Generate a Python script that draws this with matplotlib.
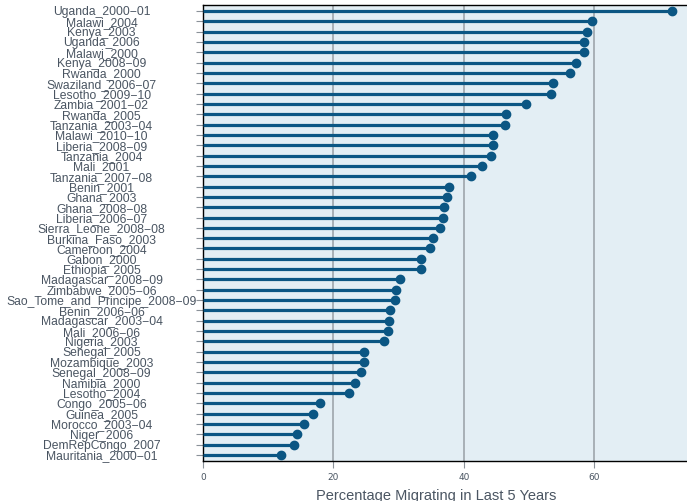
import numpy as np
import matplotlib.pyplot as plt

# Share of population that migrated in the last 5 years, by survey
surveys = [
    'Uganda_2000−01', 'Malawi_2004', 'Kenya_2003', 'Uganda_2006', 'Malawi_2000',
    'Kenya_2008−09', 'Rwanda_2000', 'Swaziland_2006−07', 'Lesotho_2009−10',
    'Zambia_2001−02', 'Rwanda_2005', 'Tanzania_2003−04', 'Malawi_2010−10',
    'Liberia_2008−09', 'Tanzania_2004', 'Mali_2001', 'Tanzania_2007−08',
    'Benin_2001', 'Ghana_2003', 'Ghana_2008−08', 'Liberia_2006−07',
    'Sierra_Leone_2008−08', 'Burkina_Faso_2003', 'Cameroon_2004', 'Gabon_2000',
    'Ethiopia_2005', 'Madagascar_2008−09', 'Zimbabwe_2005−06',
    'Sao_Tome_and_Principe_2008−09', 'Benin_2006−06', 'Madagascar_2003−04',
    'Mali_2006−06', 'Nigeria_2003', 'Senegal_2005', 'Mozambique_2003',
    'Senegal_2008−09', 'Namibia_2000', 'Lesotho_2004', 'Congo_2005−06',
    'Guinea_2005', 'Morocco_2003−04', 'Niger_2006', 'DemRepCongo_2007',
    'Mauritania_2000−01',
]
pct_migrating = [
    72.0, 59.7, 58.9, 58.5, 58.4,
    57.2, 56.3, 53.7, 53.3,
    49.5, 46.5, 46.3, 44.5,
    44.5, 44.1, 42.8, 41.1,
    37.8, 37.4, 37.0, 36.8,
    36.4, 35.3, 34.8, 33.5,
    33.4, 30.2, 29.6,
    29.5, 28.7, 28.5,
    28.4, 27.7, 24.7, 24.7,
    24.3, 23.3, 22.4, 17.9,
    16.8, 15.5, 14.4, 13.9,
    11.9,
]
x_ticks = [0, 20, 40, 60]

stem_color = '#0b5683'
text_color = '#4a5562'

fig = plt.figure(figsize=(6.87, 5.01), dpi=100)
ax = fig.add_axes([203 / 687, 40 / 501, 75 * 6.52 / 687, 456 / 501])
ax.set_facecolor('#e3eef4')

y = np.arange(len(surveys))
ax.hlines(y, 0, pct_migrating, color=stem_color, linewidth=2.3, zorder=3)
ax.plot(pct_migrating, y, 'o', color=stem_color, markersize=6, zorder=4)

ax.set_xlim(0, 75)
ax.set_ylim(len(surveys) - 0.42, -0.58)

ax.set_xticks(x_ticks)
ax.set_xticklabels([str(t) for t in x_ticks], fontsize=6.5, color=text_color)
ax.set_yticks(y)
ax.set_yticklabels(surveys, fontsize=8.7, color=text_color,
                   family=['Liberation Sans', 'DejaVu Sans'])
for lbl in ax.get_yticklabels():
    lbl.set_horizontalalignment('center')
ax.tick_params(axis='y', length=5, width=0.8, color='#8a9198', pad=68)
ax.tick_params(axis='x', length=5, width=0.8, color='#8a9198', pad=4)

ax.grid(axis='x', color='#9ea5ab', linewidth=1.2, zorder=1)
ax.set_axisbelow(True)
for side in ['left', 'bottom', 'top']:
    ax.spines[side].set_color('black')
    ax.spines[side].set_linewidth(1.0)
ax.spines['right'].set_visible(False)

ax.set_xlabel('Percentage Migrating in Last 5 Years', fontsize=10.5,
              color=text_color, family=['Liberation Sans', 'DejaVu Sans'])
ax.xaxis.set_label_coords((436 - 203) / (75 * 6.52), -0.062)

fig.savefig('out.png', dpi=100)
